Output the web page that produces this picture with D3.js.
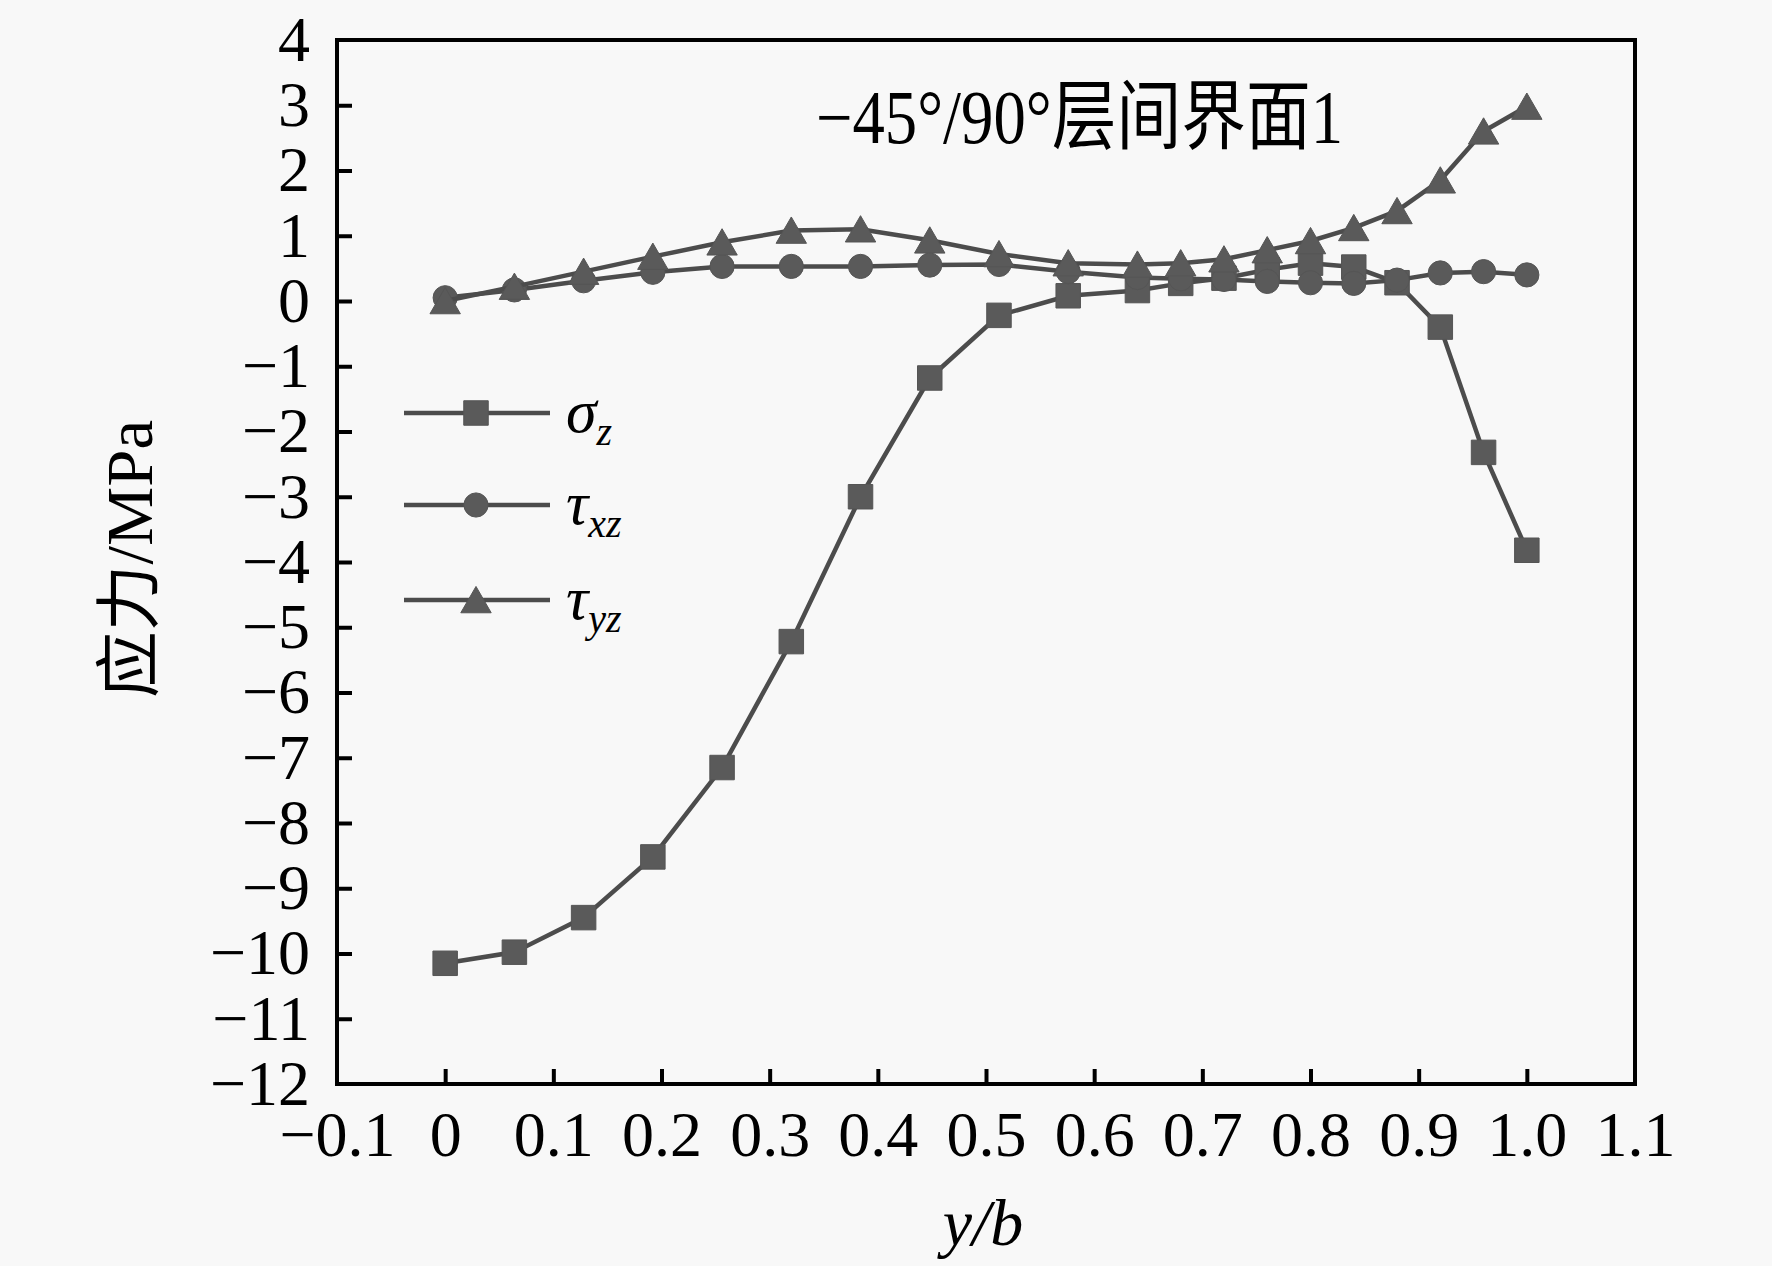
<!DOCTYPE html>
<meta charset="utf-8">
<style>
    body {
        margin: 0;
        background: #f8f8f8;
    }
    .axis path {
        display: none;
    }
    .axis line {
        stroke: #000;
        stroke-width: 4px;
    }
    .axis text {
        font-family: "Liberation Serif", "Times New Roman", serif;
        font-size: 64px;
        fill: #000;
    }
    .frame {
        fill: none;
        stroke: #000;
        stroke-width: 4px;
    }
    .series-line {
        fill: none;
        stroke: #4c4c4c;
        stroke-width: 4.5px;
    }
    .marker {
        fill: #5a5a5a;
        stroke: #555;
        stroke-width: 1px;
    }
</style>
<svg width="1772" height="1266"></svg>
<script src="https://d3js.org/d3.v7.min.js"></script>
<script>

    // y/b positions of the sampling points
    var yb = [0, 0.064, 0.128, 0.192, 0.256, 0.32, 0.384, 0.448, 0.512, 0.576,
              0.64, 0.68, 0.72, 0.76, 0.80, 0.84, 0.88, 0.92, 0.96, 1.0];

    // stresses, MPa
    var sigmaZ = [-10.15, -9.98, -9.45, -8.52, -7.15, -5.22, -3.0, -1.18, -0.22, 0.08,
                  0.16, 0.27, 0.35, 0.48, 0.58, 0.52, 0.28, -0.4, -2.32, -3.82];
    var tauXZ = [0.05, 0.17, 0.31, 0.44, 0.53, 0.53, 0.53, 0.55, 0.56, 0.45,
                 0.36, 0.34, 0.33, 0.3, 0.28, 0.27, 0.32, 0.43, 0.45, 0.4];
    var tauYZ = [0.0, 0.22, 0.45, 0.68, 0.9, 1.08, 1.1, 0.93, 0.72, 0.58,
                 0.56, 0.58, 0.64, 0.78, 0.92, 1.12, 1.38, 1.85, 2.6, 2.98];

    var xTicks = [-0.1, 0, 0.1, 0.2, 0.3, 0.4, 0.5, 0.6, 0.7, 0.8, 0.9, 1.0, 1.1];
    var xTickLabels = ["\u22120.1", "0", "0.1", "0.2", "0.3", "0.4", "0.5", "0.6", "0.7", "0.8", "0.9", "1.0", "1.1"];
    var yTicks = d3.range(-12, 5);

    var seriesNames = ["\u03c3", "\u03c4", "\u03c4"];
    var seriesSubs = ["z", "xz", "yz"];

    var svg = d3.select("svg"),
        margin = {top: 40, right: 137, bottom: 182, left: 337},
        width = +svg.attr("width") - margin.left - margin.right,
        height = +svg.attr("height") - margin.top - margin.bottom;

    var x = d3.scaleLinear().domain([-0.1, 1.1]).range([0, width]),
        y = d3.scaleLinear().domain([-12, 4]).range([height, 0]);

    var g = svg.append("g")
        .attr("transform", "translate(" + margin.left + "," + margin.top + ")");

    var symbols = [
        d3.symbol().type(d3.symbolSquare).size(600),
        d3.symbol().type(d3.symbolCircle).size(460),
        d3.symbol().type(d3.symbolTriangle).size(400)
    ];

    var series = [sigmaZ, tauXZ, tauYZ].map(function(vals, i) {
        return {
            name: seriesNames[i],
            sub: seriesSubs[i],
            symbol: symbols[i],
            points: yb.map(function(v, j) { return {x: v, y: vals[j]}; })
        };
    });

    // axes, ticks pointing inward
    g.append("g")
        .attr("class", "axis axis--x")
        .attr("transform", "translate(0," + height + ")")
        .call(d3.axisBottom(x)
            .tickValues(xTicks)
            .tickFormat(function(d, i) { return xTickLabels[i]; })
            .tickSizeInner(-15)
            .tickSizeOuter(0)
            .tickPadding(27))
        .call(function(a) {
            a.selectAll(".tick line").filter(function(d) { return d === -0.1 || d === 1.1; }).remove();
        });

    g.append("g")
        .attr("class", "axis axis--y")
        .call(d3.axisLeft(y)
            .tickValues(yTicks)
            .tickFormat(function(d) { return d < 0 ? "\u2212" + (-d) : "" + d; })
            .tickSizeInner(-15)
            .tickSizeOuter(0)
            .tickPadding(27))
        .call(function(a) {
            a.selectAll(".tick line").filter(function(d) { return d === -12 || d === 4; }).remove();
        });

    g.append("rect")
        .attr("class", "frame")
        .attr("width", width)
        .attr("height", height);

    var line = d3.line()
        .x(function(d) { return x(d.x); })
        .y(function(d) { return y(d.y); });

    var sg = g.selectAll(".series")
        .data(series)
        .enter().append("g")
        .attr("class", "series");

    sg.append("path")
        .attr("class", "series-line")
        .attr("d", function(d) { return line(d.points); });

    sg.each(function(s) {
        d3.select(this).selectAll(".marker")
            .data(s.points)
            .enter().append("path")
            .attr("class", "marker")
            .attr("transform", function(d) {
                var dy = s.symbol === symbols[2] ? 4 : 0;
                return "translate(" + x(d.x) + "," + (y(d.y) + dy) + ")";
            })
            .attr("d", s.symbol());
    });

    // legend
    var legend = svg.append("g")
        .attr("transform", "translate(404,413)");

    var item = legend.selectAll(".item")
        .data(series)
        .enter().append("g")
        .attr("class", "item")
        .attr("transform", function(d, i) { return "translate(0," + [0, 92, 187][i] + ")"; });

    item.append("line")
        .attr("class", "series-line")
        .attr("x1", 0)
        .attr("x2", 146);

    item.append("path")
        .attr("class", "marker")
        .attr("transform", function(d) { return "translate(72," + (d.symbol === symbols[2] ? 4 : 0) + ")"; })
        .attr("d", function(d) { return d.symbol(); });

    var lt = item.append("text")
        .attr("x", 162)
        .attr("y", 19)
        .style("font-family", "'Liberation Serif', 'Times New Roman', serif")
        .style("font-style", "italic")
        .style("font-size", "62px");

    lt.append("tspan").text(function(d) { return d.name; });
    lt.append("tspan")
        .attr("dy", 13)
        .style("font-size", "40px")
        .text(function(d) { return d.sub; });

    // annotation
    svg.append("text")
        .attr("x", 816)
        .attr("y", 143)
        .attr("textLength", 527)
        .attr("lengthAdjust", "spacingAndGlyphs")
        .style("font-family", "'Liberation Serif', 'Noto Sans CJK SC', serif")
        .style("font-size", "76px")
        .text("\u221245\u00b0/90\u00b0层间界面1");

    // axis titles
    svg.append("text")
        .attr("transform", "translate(152,559) rotate(-90)")
        .attr("text-anchor", "middle")
        .attr("textLength", 278)
        .attr("lengthAdjust", "spacingAndGlyphs")
        .style("font-family", "'Liberation Serif', 'Noto Sans CJK SC', serif")
        .style("font-size", "66px")
        .text("应力/MPa");

    svg.append("text")
        .attr("x", 983)
        .attr("y", 1245)
        .attr("text-anchor", "middle")
        .style("font-family", "'Liberation Serif', 'Times New Roman', serif")
        .style("font-size", "66px")
        .style("font-style", "italic")
        .text("y/b");
</script>
